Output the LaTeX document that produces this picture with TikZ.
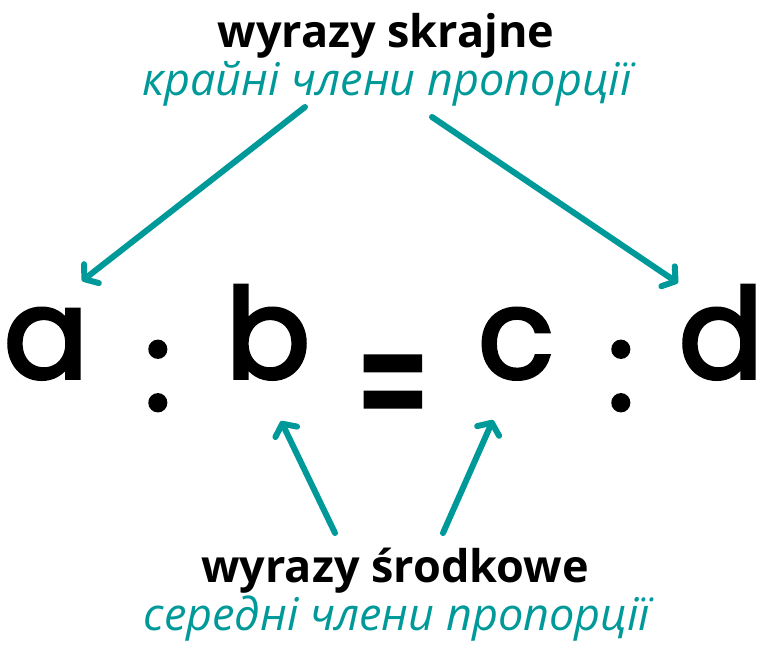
\documentclass[tikz,border=0pt]{standalone}
\usepackage{fontspec}
\setmainfont{Open Sans}
\newfontfamily\bigfont{Poppins}[FakeBold=3]
\usetikzlibrary{arrows.meta}
\definecolor{tealc}{RGB}{0,153,153}
\begin{document}
\begin{tikzpicture}[x=1pt,y=-1pt,
  titlebold/.style={font=\fontsize{45}{50}\selectfont\bfseries, anchor=base},
  titleital/.style={font=\fontsize{45}{50}\selectfont\itshape, text=tealc, anchor=base},
  bigsym/.style={font=\fontsize{125}{130}\bigfont, anchor=base, inner sep=0pt},
  colonsym/.style={font=\fontsize{125}{130}\bigfont, anchor=center, inner sep=0pt},
  eqsym/.style={font=\fontsize{125}{130}\bigfont, anchor=center, inner sep=0pt, transform shape, xscale=0.85, yscale=1.35},
  arr/.style={draw=tealc, line width=6pt, line cap=round, -{Straight Barb[length=9pt,width=24pt,round]}}]
\useasboundingbox (0,0) rectangle (763,648);
\node[titlebold] (t1) at (386,47) {wyrazy skrajne};
\node[titleital] (t1u) at (387,95) {крайні члени пропорції};
\node[titlebold] (t2) at (395,582) {wyrazy środkowe};
\node[titleital] (t2u) at (397,630) {середні члени пропорції};
\node[bigsym] (a) at (46,378) {a};
\node[colonsym] (c1) at (158,376) {:};
\node[bigsym] (b) at (268,378) {b};
\node[eqsym] (eq) at (393,400) {=};
\node[bigsym] (c) at (516,378) {c};
\node[colonsym] (c2) at (621,376) {:};
\node[bigsym] (d) at (721,378) {d};
\coordinate (s1) at (305,107);
\coordinate (e1) at (82,281);
\coordinate (s2) at (432,117);
\coordinate (e2) at (678,283);
\coordinate (s3) at (335,533);
\coordinate (e3) at (281,421);
\coordinate (s4) at (443,533);
\coordinate (e4) at (493,420);
\draw[arr] (s1) -- (e1);
\draw[arr] (s2) -- (e2);
\draw[arr] (s3) -- (e3);
\draw[arr] (s4) -- (e4);
\end{tikzpicture}
\end{document}
